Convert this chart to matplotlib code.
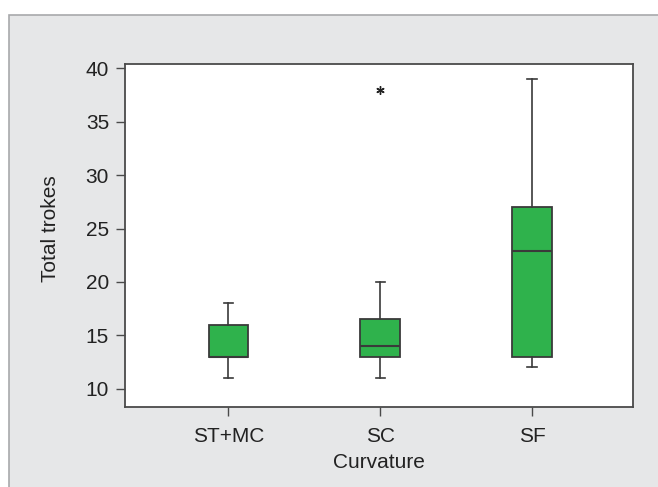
import numpy as np
import matplotlib.pyplot as plt
from matplotlib.patches import Rectangle

plt.rcParams['font.family'] = ['Liberation Sans', 'DejaVu Sans']

categories = ['ST+MC', 'SC', 'SF']
whislo = [11, 11, 12]
q1 = [13, 13, 13]
med = [13, 14, 22.9]
q3 = [16, 16.5, 27]
whishi = [18, 20, 39]
fliers = [[], [38], []]

stats = []
for i in range(len(categories)):
    stats.append(dict(label=categories[i], whislo=whislo[i], q1=q1[i], med=med[i],
                      q3=q3[i], whishi=whishi[i], fliers=fliers[i]))

fig = plt.figure(figsize=(6.58, 4.87), dpi=100)
fig.patch.set_facecolor('white')
# grey panel behind the plot
fig.patches.append(Rectangle((9/658, -0.05), 1.1, 1 - 15/487 + 0.05, transform=fig.transFigure,
                             facecolor='#e6e7e8', edgecolor='#a8a9ab', linewidth=1.2, zorder=-10))

ax = fig.add_axes([125/658, 1 - 407/487, 508/658, 343/487])
ax.set_facecolor('white')

edge = '#3a3a3a'
ax.bxp(stats, positions=[1, 2, 3], widths=0.26, patch_artist=True, capwidths=0.06,
       boxprops=dict(facecolor='#2fb24c', edgecolor=edge, linewidth=1.3),
       medianprops=dict(color=edge, linewidth=1.5),
       whiskerprops=dict(color=edge, linewidth=1.2),
       capprops=dict(color=edge, linewidth=1.2),
       flierprops=dict(marker=(6, 2, 0), markersize=6, markeredgecolor='#222222',
                       markerfacecolor='#222222', markeredgewidth=1.0))

ax.set_xlim(0.32, 3.665)
ax.set_ylim(8.3, 40.4)
ax.set_yticks([10, 15, 20, 25, 30, 35, 40])
ax.set_xticks([1, 2, 3])
ax.set_xticklabels(categories)

for s in ax.spines.values():
    s.set_color('#4a4a4a')
    s.set_linewidth(1.3)

ax.tick_params(axis='both', direction='out', length=6.5, width=1.0, color='#4a4a4a',
               labelsize=15, labelcolor='#222222')
ax.tick_params(axis='x', pad=8)
ax.tick_params(axis='y', pad=5)

ax.set_xlabel('Curvature', fontsize=15, color='#222222', labelpad=5)
ax.set_ylabel('Total trokes', fontsize=15, color='#222222')
ax.yaxis.set_label_coords(-0.128, 0.52)

fig.savefig('out.png', dpi=100)
